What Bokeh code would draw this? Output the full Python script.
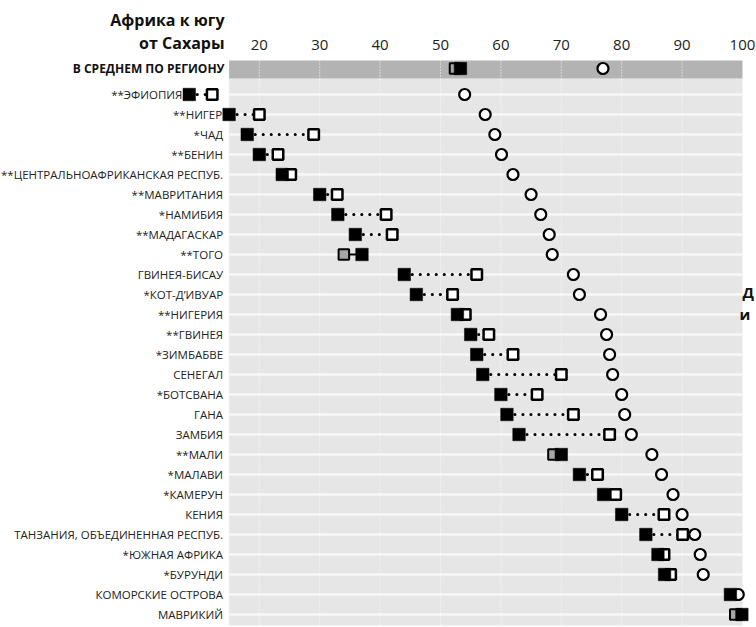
import numpy as np
from bokeh.plotting import figure
from bokeh.models import Range1d, ColumnDataSource
from bokeh.core.properties import value
from bokeh.embed import file_html
from bokeh.resources import INLINE

nan = float("nan")

title_lines = ["Африка к югу", "от Сахары"]
avg_label = "В СРЕДНЕМ ПО РЕГИОНУ"
avg_black = 53.3
avg_grey = 52.4
avg_circle = 76.9

countries = [
    "**ЭФИОПИЯ", "**НИГЕР", "*ЧАД", "**БЕНИН", "**ЦЕНТРАЛЬНОАФРИКАНСКАЯ РЕСПУБ.",
    "**МАВРИТАНИЯ", "*НАМИБИЯ", "**МАДАГАСКАР", "**ТОГО", "ГВИНЕЯ-БИСАУ",
    "*КОТ-Д’ИВУАР", "**НИГЕРИЯ", "**ГВИНЕЯ", "*ЗИМБАБВЕ", "СЕНЕГАЛ",
    "*БОТСВАНА", "ГАНА", "ЗАМБИЯ", "**МАЛИ", "*МАЛАВИ", "*КАМЕРУН", "КЕНИЯ",
    "ТАНЗАНИЯ, ОБЪЕДИНЕННАЯ РЕСПУБ.", "*ЮЖНАЯ АФРИКА", "*БУРУНДИ",
    "КОМОРСКИЕ ОСТРОВА", "МАВРИКИЙ",
]
black_vals = [8.4, 15.0, 18.0, 20.0, 23.8, 30.0, 33.0, 35.9, 37.0, 44.0,
              46.0, 52.8, 55.0, 56.0, 57.0, 60.0, 61.0, 63.0, 70.0, 73.0,
              77.0, 80.0, 84.0, 86.0, 87.1, 98.0, 99.9]
white_vals = [12.2, 20.0, 29.0, 23.1, 25.2, 32.9, 41.0, 42.0, nan, 56.0,
              52.0, 54.1, 58.0, 62.0, 70.0, 66.0, 72.0, 78.0, nan, 76.0,
              79.0, 87.0, 90.1, 87.0, 88.1, nan, nan]
grey_vals = [nan, nan, nan, nan, nan, nan, nan, nan, 34.0, nan,
             nan, nan, nan, nan, nan, nan, nan, nan, 68.7, nan,
             nan, nan, nan, nan, nan, nan, 98.8]
circle_vals = [54.0, 57.4, 59.0, 60.1, 62.0, 65.0, 66.6, 68.0, 68.5, 72.0,
               73.0, 76.5, 77.5, 78.0, 78.5, 80.0, 80.5, 81.6, 85.0, 86.6,
               88.5, 90.0, 92.1, 93.0, 93.5, 99.3, 99.5]
ticks = [20, 30, 40, 50, 60, 70, 80, 90, 100]
cut_text = ["Д", "и"]

FONT = "Open Sans"
BG = "#e6e6e6"
BAND = "#b3b3b3"

n = len(countries)
ys = [-i for i in range(n)]
avg_y = 1.3
band_top, band_bot = 1.7, 0.8
area_bot = -26.55
xl, xr = 15.0, 100.0

p = figure(width=756, height=627, x_range=Range1d(-22.85, 102.32),
           y_range=Range1d(-26.65, 4.7), output_backend="svg",
           toolbar_location=None, min_border=0)
p.axis.visible = False
p.grid.visible = False
p.outline_line_color = None
p.background_fill_color = "white"
p.border_fill_color = "white"

# backgrounds
p.quad(left=[xl], right=[xr], top=[band_bot], bottom=[area_bot],
       fill_color=BG, line_color=None)
p.quad(left=[xl], right=[xr], top=[band_top], bottom=[band_bot],
       fill_color=BAND, line_color=None)
# row lines
p.segment(x0=[xl] * n, x1=[xr] * n, y0=ys, y1=ys, line_color="#f7f7f7",
          line_width=2.5)
# vertical dotted gridlines
gt = ticks[:-1]
p.segment(x0=gt, x1=gt, y0=[band_top] * len(gt), y1=[area_bot] * len(gt),
          line_color="white", line_width=1, line_dash="1 2")

# tick labels
p.text(x=ticks, y=[2.5] * len(ticks), text=[str(t) for t in ticks],
       text_font=value(FONT), text_font_size="15px", text_align="center",
       text_baseline="middle", text_color="#222222")

# title
p.text(x=[14.24] * 2, y=[3.72, 2.6], text=title_lines,
       text_font=value(FONT), text_font_size="16px", text_font_style="bold",
       text_align="right", text_baseline="middle", text_color="#111111")
p.text(x=[14.24], y=[avg_y], text=[avg_label], text_font=value(FONT),
       text_font_size="12px", text_font_style="bold", text_align="right",
       text_baseline="middle", text_color="#111111")

# country labels
lab_x = [min(14.0, b - 1.15) for b in black_vals]
p.text(x=lab_x, y=ys, text=countries, text_font=value(FONT),
       text_font_size="11.5px", text_align="right", text_baseline="middle",
       text_color="#222222")

# connectors
dx0, dx1, dy = [], [], []
for b, w, y in zip(black_vals, white_vals, ys):
    if not np.isnan(w):
        dx0.append(b); dx1.append(w); dy.append(y)
p.segment(x0=dx0, x1=dx1, y0=dy, y1=dy, line_color="black", line_width=3.2,
          line_dash="0 8", line_cap="round")
gx0, gx1, gy = [avg_grey], [avg_black], [avg_y]
for b, g, y in zip(black_vals, grey_vals, ys):
    if not np.isnan(g):
        gx0.append(g); gx1.append(b); gy.append(y)
p.segment(x0=gx0, x1=gx1, y0=gy, y1=gy, line_color="black", line_width=2)

# circles
p.scatter(x=circle_vals + [avg_circle], y=ys + [avg_y], marker="circle",
          size=11, fill_color="white", line_color="black", line_width=2.2)
# white squares
wsrc = ColumnDataSource(dict(x=white_vals, y=ys))
p.scatter("x", "y", source=wsrc, marker="square", size=10.5,
          fill_color="white", line_color="black", line_width=2.5)
# grey squares
p.scatter(x=grey_vals + [avg_grey], y=ys + [avg_y], marker="square",
          size=10.5, fill_color="#a6a6a6", line_color="black", line_width=2)
# black squares
p.scatter(x=black_vals + [avg_black], y=ys + [avg_y], marker="square",
          size=12.5, fill_color="black", line_color="black", line_width=0.5)

# cut-off side text
p.text(x=[100.0, 99.5], y=[-9.85, -10.95], text=cut_text,
       text_font=value(FONT), text_font_size="15px", text_font_style="bold",
       text_align="left", text_baseline="middle", text_color="#111111")

open("out.html", "w").write(file_html(p, INLINE))
